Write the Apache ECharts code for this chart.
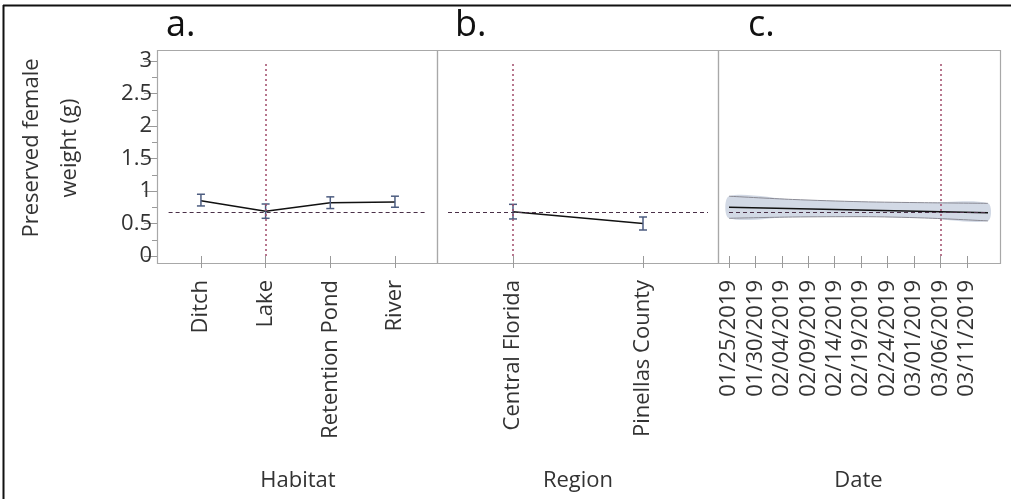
<!DOCTYPE html>
<html><head><meta charset="utf-8">
<script src="https://cdn.jsdelivr.net/npm/echarts@6/dist/echarts.min.js"></script>
<style>html,body{margin:0;padding:0;background:#fff}#c{width:1011px;height:499px}</style>
</head><body><div id="c"></div>
<script>
// ---- data ----
const habitatCats = ['Ditch', 'Lake', 'Retention Pond', 'River'];
const habitatMean = [0.85, 0.69, 0.82, 0.83];
const habitatLow  = [0.77, 0.58, 0.73, 0.75];
const habitatHigh = [0.95, 0.80, 0.91, 0.92];

const regionCats = ['Central Florida', 'Pinellas County'];
const regionMean = [0.68, 0.50];
const regionLow  = [0.57, 0.40];
const regionHigh = [0.795, 0.60];

const dateTickLabels = ['01/25/2019','01/30/2019','02/04/2019','02/09/2019','02/14/2019',
  '02/19/2019','02/24/2019','03/01/2019','03/06/2019','03/11/2019'];
const dateFirst = '2019-01-25';
const dateLast = '2019-03-15';
const fitDates  = ['01/25/2019', '03/15/2019'];
const fitValues = [0.75, 0.665];
const bandDates = ['01/25/2019','02/06/2019','02/19/2019','03/03/2019','03/15/2019'];
const bandUpper = [0.92, 0.87, 0.835, 0.82, 0.81];
const bandLower = [0.58, 0.60, 0.605, 0.585, 0.54];

const refY = 0.67;
const refHabitat = 'Lake';
const refRegion = 'Central Florida';
const refDate = '03/06/2019';

const yTickValues = [0, 0.5, 1, 1.5, 2, 2.5, 3];
const yTitle = 'Preserved female\nweight (g)';
const panelTitles = ['a.', 'b.', 'c.'];

// date categories (every day from first to last)
const dateCats = [];
(function(){
  let d = new Date(dateFirst + 'T00:00:00Z');
  const end = new Date(dateLast + 'T00:00:00Z');
  while (d <= end) {
    const mm = String(d.getUTCMonth()+1).padStart(2,'0');
    const dd = String(d.getUTCDate()).padStart(2,'0');
    dateCats.push(mm + '/' + dd + '/' + d.getUTCFullYear());
    d = new Date(d.getTime() + 86400000);
  }
})();

// ---- styles ----
const FONT = 'Open Sans';
const textCol = '#333';
const tickCol = '#9a9a9a';
const boxCol = '#a8a8a8';
const barCol = '#4d5d80';
const vRefCol = '#a04a6a';
const hRefCol = '#4a3048';

const boxTop = 50, boxBottom = 263;
const dataTop = 61, dataH = 195;

function xAxisCommon(name, cats, gridIndex, extra) {
  return Object.assign({
    type: 'category', data: cats, gridIndex: gridIndex,
    offset: boxBottom - (dataTop + dataH) + 1,
    name: name, nameLocation: 'middle', nameGap: 206,
    nameTextStyle: {fontFamily: FONT, fontSize: 22, color: textCol},
    axisLine: {show: false},
    axisTick: {show: true, alignWithLabel: true, length: 12, lineStyle: {color: tickCol}},
    axisLabel: {rotate: 90, margin: 16, fontFamily: FONT, fontSize: 22, color: textCol},
    splitLine: {show: false}
  }, extra || {});
}
function yAxisCommon(gridIndex, showLabels) {
  return {
    type: 'value', gridIndex: gridIndex, min: 0, max: 3, interval: 0.5,
    offset: showLabels ? 11.6 : 0,
    show: showLabels,
    axisLine: {show: false},
    axisTick: {show: showLabels, length: 13, lineStyle: {color: tickCol}},
    minorTick: {show: showLabels, splitNumber: 2, length: 5, lineStyle: {color: tickCol}},
    axisLabel: {show: showLabels, margin: 5, fontFamily: FONT, fontSize: 22, color: textCol,
      formatter: v => yTickValues.indexOf(v) >= 0 ? String(v) : ''},
    splitLine: {show: false}
  };
}

function errorBarSeries(xi, yi, cats, low, high) {
  return {
    type: 'custom', xAxisIndex: xi, yAxisIndex: yi, z: 4,
    data: cats.map((c, i) => [c, low[i], high[i]]),
    renderItem: function(params, api) {
      const x = api.value(0);
      const pLow = api.coord([x, api.value(1)]);
      const pHigh = api.coord([x, api.value(2)]);
      const hw = 4;
      const st = {stroke: barCol, lineWidth: 1.5};
      return {type: 'group', children: [
        {type: 'line', shape: {x1: pLow[0], y1: pLow[1], x2: pHigh[0], y2: pHigh[1]}, style: st},
        {type: 'line', shape: {x1: pLow[0]-hw, y1: pLow[1], x2: pLow[0]+hw, y2: pLow[1]}, style: st},
        {type: 'line', shape: {x1: pHigh[0]-hw, y1: pHigh[1], x2: pHigh[0]+hw, y2: pHigh[1]}, style: st}
      ]};
    }
  };
}
function meanLine(xi, yi, cats, vals, vRef) {
  return {
    type: 'line', xAxisIndex: xi, yAxisIndex: yi, z: 3,
    data: cats.map((c, i) => [c, vals[i]]),
    symbol: 'none', lineStyle: {color: '#111', width: 1.5},
    markLine: {
      silent: true, symbol: 'none', label: {show: false}, animation: false,
      data: [
        {xAxis: vRef, lineStyle: {color: vRefCol, type: [2, 3], width: 1.5}},
        {yAxis: refY, lineStyle: {color: hRefCol, type: [4, 3], width: 1.2}}
      ]
    }
  };
}

const titleFont = '36px "Open Sans"';
const chart = echarts.init(document.getElementById('c'), null, {renderer: 'canvas'});
const option = {
  animation: false,
  grid: [
    {left: 168.6, width: 258.7, top: dataTop, height: dataH},
    {left: 448, width: 260, top: dataTop, height: dataH},
    {left: 729, width: 259, top: dataTop, height: dataH}
  ],
  xAxis: [
    xAxisCommon('Habitat', habitatCats, 0),
    xAxisCommon('Region', regionCats, 1),
    xAxisCommon('Date', dateCats, 2, {
      boundaryGap: false,
      axisTick: {show: true, length: 12, lineStyle: {color: tickCol},
        interval: (i, v) => dateTickLabels.indexOf(v) >= 0},
      axisLabel: {rotate: 90, margin: 16, fontFamily: FONT, fontSize: 22, color: textCol,
        interval: (i, v) => dateTickLabels.indexOf(v) >= 0}
    })
  ],
  yAxis: [yAxisCommon(0, true), yAxisCommon(1, false), yAxisCommon(2, false)],
  graphic: [
    {type: 'line', shape: {x1: 3, y1: 5.5, x2: 1011, y2: 5.5}, style: {stroke: '#111', lineWidth: 2}},
    {type: 'line', shape: {x1: 3.5, y1: 5, x2: 3.5, y2: 499}, style: {stroke: '#111', lineWidth: 2}},
    {type: 'rect', shape: {x: 157.5, y: boxTop + 0.5, width: 280, height: boxBottom - boxTop}, style: {fill: 'none', stroke: boxCol, lineWidth: 1.2}},
    {type: 'rect', shape: {x: 437.5, y: boxTop + 0.5, width: 281, height: boxBottom - boxTop}, style: {fill: 'none', stroke: boxCol, lineWidth: 1.2}},
    {type: 'rect', shape: {x: 718.5, y: boxTop + 0.5, width: 282, height: boxBottom - boxTop}, style: {fill: 'none', stroke: boxCol, lineWidth: 1.2}},
    {type: 'text', x: 166, y: 44, style: {text: panelTitles[0], font: titleFont, fill: '#111', verticalAlign: 'bottom'}},
    {type: 'text', x: 455, y: 44, style: {text: panelTitles[1], font: titleFont, fill: '#111', verticalAlign: 'bottom'}},
    {type: 'text', x: 748, y: 44, style: {text: panelTitles[2], font: titleFont, fill: '#111', verticalAlign: 'bottom'}},
    {type: 'text', x: 51, y: 148, rotation: Math.PI / 2,
      style: {text: yTitle, font: '22px "Open Sans"', fill: textCol, align: 'center', verticalAlign: 'middle', lineHeight: 38}}
  ],
  series: [
    meanLine(0, 0, habitatCats, habitatMean, refHabitat),
    errorBarSeries(0, 0, habitatCats, habitatLow, habitatHigh),
    meanLine(1, 1, regionCats, regionMean, refRegion),
    errorBarSeries(1, 1, regionCats, regionLow, regionHigh),
    {
      type: 'custom', xAxisIndex: 2, yAxisIndex: 2, z: 1,
      data: [0],
      renderItem: function(params, api) {
        const pts = [];
        bandDates.forEach((d, i) => pts.push(api.coord([dateCats.indexOf(d), bandUpper[i]])));
        for (let i = bandDates.length - 1; i >= 0; i--) pts.push(api.coord([dateCats.indexOf(bandDates[i]), bandLower[i]]));
        return {type: 'polygon', shape: {points: pts, smooth: 0.3}, style: {fill: 'rgba(180,192,212,0.6)', stroke: 'none'}};
      }
    },
    {type: 'line', xAxisIndex: 2, yAxisIndex: 2, z: 2, symbol: 'none', smooth: 0.3,
      data: bandDates.map((d, i) => [d, bandUpper[i]]), lineStyle: {color: '#8a8a94', width: 1}},
    {type: 'line', xAxisIndex: 2, yAxisIndex: 2, z: 2, symbol: 'none', smooth: 0.3,
      data: bandDates.map((d, i) => [d, bandLower[i]]), lineStyle: {color: '#8a8a94', width: 1}},
    meanLine(2, 2, fitDates, fitValues, refDate)
  ]
};
chart.setOption(option);
</script></body></html>
